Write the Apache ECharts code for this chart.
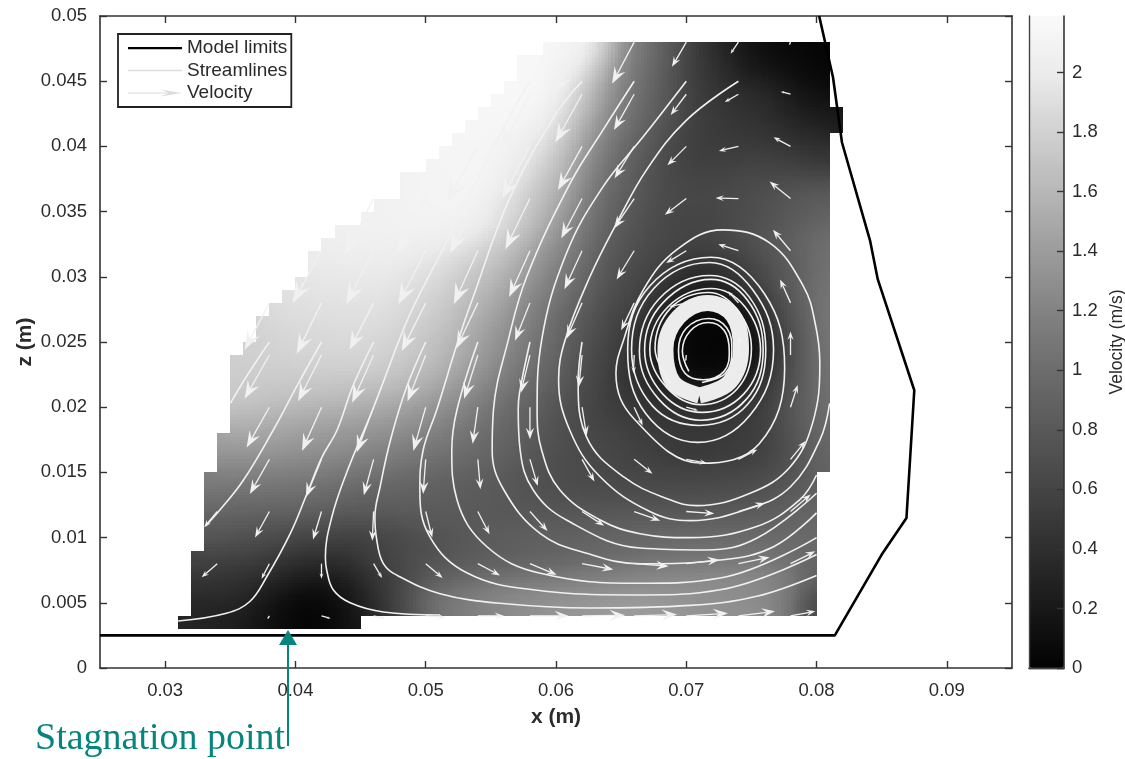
<!DOCTYPE html>
<html><head><meta charset="utf-8">
<style>html,body{margin:0;padding:0;background:#fff}#c{width:1125px;height:759px}</style>
<script src="https://cdn.jsdelivr.net/npm/echarts@6/dist/echarts.min.js"></script>
</head><body><div id="c"></div>
<script>
// axis tick labels
const xTicks=[0.03,0.04,0.05,0.06,0.07,0.08,0.09];
const zTicks=[0,0.005,0.01,0.015,0.02,0.025,0.03,0.035,0.04,0.045,0.05];
const barTicks=[0,0.2,0.4,0.6,0.8,1,1.2,1.4,1.6,1.8,2];
// grey levels of the colour bar, evenly spaced from 0 to 2.19 m/s
const barGreys=['#020202','#181818','#2e2e2e','#444444','#585858','#6c6c6c','#828282','#9b9b9b','#b6b6b6','#d0d0d0','#ebebeb','#fafafa'];
// velocity field read by eye, cm/s, rows from z = 47 mm down to z = 3 mm, cell 1 mm
const rowZ=[47,46,45,44,43,42,41,40,39,38,37,36,35,34,33,32,31,30,29,28,27,26,25,24,23,22,21,20,19,18,17,16,15,14,13,12,11,10,9,8,7,6,5,4,3];
const rowStartX=[59,57,57,56,55,54,53,52,51,50,48,48,46,45,43,42,41,41,40,39,38,37,37,36,35,35,35,35,35,35,34,34,34,33,33,33,33,33,33,32,32,32,32,32,31];
const velocityRows=[
[212, 208,205,195,172,140, 110,96,83,70,57, 45,36,28,21,15, 10,7,5,4,3, 2],
[214,213,211, 205,198,182,155,128, 105,93,81,69,56, 45,38,30,24,18, 14,11,8,6,4, 3],
[214,212,208, 200,190,170,145,122, 102,90,79,67,56, 45,39,33,27,22, 17,14,11,8,6, 4],
[215,214,212,207, 195,178,155,133,115, 98,87,76,66,55, 45,40,35,31,29, 27,23,18,13,10, 7],
[213,213,212,209,202, 188,170,150,128,112, 96,86,75,65,55, 46,42,38,35,32, 31,27,22,18,14, 12],
[212, 212,212,210,205,196, 180,160,140,122,105, 92,82,73,63,54, 46,43,40,37,35, 34,30,26,22,19, 17,15],
[212,212, 211,210,206,199,188, 172,152,133,115,100, 88,79,70,60,52, 46,43,41,39,37, 36,33,30,27,25, 24,20],
[210,210,210, 208,205,198,190,178, 162,143,125,108,94, 82,74,66,57,50, 45,43,42,41,40, 40,38,36,33,31, 30],
[210,210,210,210, 206,202,194,183,170, 155,136,118,102,89, 79,71,63,55,49, 46,44,44,44,44, 44,43,41,39,37, 35],
[208,209,210,210,209, 204,198,188,175,162, 148,130,112,97,85, 76,68,61,54,50, 47,46,46,47,48, 49,48,47,46,44, 42],
[205,207, 208,209,210,209,207, 201,193,182,168,155, 141,124,107,93,82, 74,66,59,54,51, 49,49,49,50,52, 53,53,54,54,55, 55],
[205,207, 208,208,208,206,203, 192,185,172,160,148, 135,118,102,89,79, 72,65,59,55,53, 52,52,53,54,55, 57,59,62,64,66, 67],
[203,204,205,206, 207,207,206,204,200, 188,180,168,155,142, 129,113,98,86,76, 69,63,58,54,52, 51,51,52,54,56, 58,61,64,67,69, 72],
[203,203,204,205,205, 205,204,203,199,195, 183,175,163,149,136, 123,108,94,83,73, 67,61,56,53,51, 50,50,51,54,56, 59,62,66,70,73, 77],
[200,201, 202,202,203,203,203, 202,201,199,195,190, 177,168,156,142,129, 116,103,90,79,70, 64,59,55,52,50, 49,49,51,54,57, 60,64,68,73,77, 82],
[198,199,199, 200,200,200,199,198, 195,193,189,183,175, 165,156,144,132,120, 110,98,86,76,68, 62,57,54,51,49, 48,48,50,53,57, 62,66,71,76,82, 87],
[194,195,195,196, 196,196,195,194,191, 188,184,178,171,164, 157,148,136,124,113, 104,93,82,72,65, 59,55,51,48,44, 41,40,42,46,50, 56,62,68,74,80, 88],
[190,190,191,191, 192,192,190,188,185, 182,176,169,163,157, 150,140,129,118,107, 98,88,78,69,62, 56,52,48,42,36, 33,32,34,39,45, 52,60,67,74,81, 89],
[187,188,188,189,189, 189,189,187,184,180, 176,170,163,156,150, 142,133,122,112,102, 94,84,75,66,59, 54,49,44,37,30, 26,24,26,31,39, 48,57,66,74,82, 90],
[183, 184,185,185,186,186, 186,185,183,179,175, 171,165,158,151,144, 136,127,116,106,97, 90,80,71,62,55, 51,46,39,30,21, 15,12,14,20,30, 38,50,62,72,82, 92],
[178,180, 181,182,182,183,183, 183,182,179,175,171, 167,160,153,146,138, 130,121,110,100,91, 84,75,67,59,52, 48,41,33,23,13, 8,6,7,11,19, 30,44,58,70,81, 92],
[173,176,178, 178,179,180,180,180, 180,178,175,171,167, 163,156,149,141,133, 125,116,106,97,88, 80,71,63,55,49, 44,37,27,15,7, 4,3,3,4,8, 22,38,54,68,80, 92],
[170,172,174, 175,176,176,177,177, 177,175,172,168,163, 158,151,144,136,128, 120,111,102,93,85, 78,69,61,54,47, 40,32,22,11,5, 3,2,2,3,6, 18,34,50,65,79, 92],
[168,170,171,172, 173,173,174,174,174, 173,171,168,164,159, 154,147,140,132,124, 116,107,98,90,82, 75,66,58,51,45, 38,30,20,10,5, 3,2,2,3,5, 15,31,47,63,78, 91],
[167,167,168,168,169, 170,170,170,170,170, 169,167,164,160,155, 150,143,136,128,120, 112,103,95,87,79, 72,63,56,49,43, 37,30,21,12,6, 4,3,3,4,8, 20,34,49,64,78, 90],
[165,165,165,165,165, 165,165,165,164,164, 163,161,158,154,149, 143,137,130,122,114, 106,98,90,83,76, 69,61,54,48,42, 37,31,25,17,11, 8,7,8,12,18, 28,39,52,65,78, 89],
[163,162,161,160,160, 158,158,157,156,155, 153,151,148,144,140, 135,128,122,115,107, 99,92,85,78,72, 66,59,53,47,42, 38,33,28,23,19, 17,17,18,22,27, 34,44,55,66,77, 88],
[160,158,156,155,153, 150,149,148,147,145, 143,141,138,134,130, 125,118,112,106,99, 92,86,80,74,68, 62,57,51,47,43, 40,37,34,32,31, 30,30,31,33,36, 40,48,58,68,78, 87],
[150,149,147,145,143, 141,140,138,137,135, 133,131,128,124,120, 116,110,105,99,93, 87,81,76,71,65, 60,55,51,47,44, 42,39,37,36,35, 34,35,36,38,40, 43,50,59,68,77, 85],
[140,139,137,135,133, 131,130,128,127,125, 123,121,118,115,111, 107,102,97,92,88, 83,78,73,68,63, 59,55,52,49,47, 45,43,41,40,39, 38,38,39,41,42, 44,50,58,67,75, 83],
[130, 130,129,128,127,125, 123,122,120,118,116, 114,112,109,106,102, 99,95,91,87,83, 79,75,71,66,62, 58,55,53,51,49, 47,45,44,42,41, 40,41,41,42,43, 45,50,57,65,73, 80],
[120, 120,120,119,118,117, 115,114,113,111,109, 105,104,101,98,95, 92,89,86,83,80, 78,73,69,64,60, 57,55,53,52,50, 48,46,45,43,41, 40,41,42,43,44, 45,50,56,63,71, 78],
[110, 110,109,109,108,107, 106,105,103,101,99, 97,95,93,90,88, 85,83,80,78,75, 73,69,66,62,59, 56,55,53,52,51, 50,49,48,47,46, 45,46,46,47,48, 50,54,59,65,71, 77],
[101,100, 100,99,99,98,97, 96,95,93,91,89, 87,85,83,81,79, 77,76,74,72,70, 69,66,63,60,58, 56,55,54,54,53, 53,52,52,51,51, 51,51,52,52,53, 55,58,62,66,71],
[92,91, 90,90,89,89,88, 87,86,84,82,80, 78,77,76,75,74, 73,72,71,70,69, 68,65,63,61,59, 58,57,57,56,56, 56,56,56,56,56, 56,57,57,58,59, 60,63,66,70,74],
[83,83, 82,82,82,81,81, 80,79,77,75,73, 72,72,72,72,72, 72,71,70,69,68, 67,66,65,64,63, 62,62,62,62,62, 62,62,62,62,62, 62,63,64,64,65, 67,69,72,75,78],
[75,74, 73,72,71,70,69, 68,67,65,63,62, 62,63,64,65,66, 67,67,67,67,67, 67,67,67,67,67, 67,67,68,68,69, 69,69,70,70,70, 71,71,71,72,72, 73,74,75,77,79],
[67,66, 65,63,61,59,57, 55,54,53,52,52, 53,55,57,59,61, 63,65,66,68,69, 70,71,71,72,72, 73,73,74,75,76, 76,77,78,78,79, 79,80,80,80,80, 80,80,80,81,81],
[60,58, 56,54,52,50,47, 45,44,43,42,42, 44,47,50,53,56, 59,62,65,67,69, 71,72,73,74,75, 76,77,78,79,80, 81,82,83,84,85, 86,86,86,87,87, 87,86,85,84,83],
[50,49,48, 48,46,44,41,38, 35,34,34,35,38, 45,48,52,56,59, 62,65,68,70,71, 72,73,75,76,77, 78,80,82,84,85, 87,88,90,91,92, 92,93,93,93,93, 92,91,88,84,78],
[42,41,40, 39,37,35,32,28, 25,24,24,26,30, 37,42,47,53,59, 65,69,72,75,78, 80,82,84,86,87, 88,90,92,94,96, 98,100,101,102,103, 103,104,104,104,103, 102,100,95,88,78],
[36,35,34, 33,30,27,23,19, 15,14,15,18,23, 31,38,46,55,64, 73,79,84,88,92, 95,97,99,101,103, 104,106,107,109,110, 111,112,113,113,113, 113,113,113,112,112, 111,108,102,92,72],
[30,29,29, 28,24,19,14,10, 7,6,8,12,18, 27,36,47,59,72, 87,92,96,100,104, 107,109,111,112,114, 115,116,117,118,119, 120,120,119,118,117, 115,114,113,112,111, 110,106,98,84,58],
[25,24,23, 22,18,14,10,6, 3,3,5,9,15, 24,33,44,56,70, 85,93,98,102,106, 109,112,114,116,118, 120,121,122,123,124, 125,125,124,123,121, 119,118,117,116,115, 113,108,98,82,55],
[25,24,23,22, 20,16,12,8,5, 3,3,5,9,14]
];
// correction for the by-eye reading, which came out too dark in the middle greys
const eyeReadingLift=0.28;
// boundary of the model, mm
const modelLimits=[[80.2,50],[81.26,45.3],[81.95,40.3],[84.1,32.8],[84.7,29.8],[87.5,21.3],[86.9,11.5],[85,8.7],[81.4,2.5],[25,2.5]];
// streamlines, mm
const streamlines=[
[[38,25],[36.4,22.6],[35,20.3]],
[[42,25],[40.1,21.6],[38.3,18.25],[36,14.4],[34.1,12],[33.1,10.9]],
[[46,25],[44.4,21.6],[43.2,18.25],[42,16.1],[40.9,13.4],[39.6,10.3],[37.8,7],[36.5,5.1],[34.7,4.2],[31,3.6]],
[[58,45],[56,41.5],[53.5,36.5],[51,31.5],[49.3,28.2],[48.26,25.9],[46,20],[43.9,14.9],[42.8,11.6],[42.3,8.5],[42.4,7.5],[42.9,6],[44.2,5],[46.75,4.3],[51.1,4.07]],
[[50,25],[48.5,21.45],[47.3,17.5],[46.5,13.9],[46.1,11.6],[46.2,10.1],[46.75,8],[48,7],[51.1,5.7],[55.7,4.96],[62.6,4.6],[70.3,4.8],[75.4,5.5],[80,7.1]],
[[62,45],[60,42.5],[56.5,36.15],[53.55,28.2],[52.5,25.15],[50.85,19.8],[49.8,16.7],[49.55,13.65],[50.3,10.1],[53.15,7.3],[58.25,6],[66.45,5.6],[72.6,6],[80,8.7]],
[[54,25],[52.4,19.8],[52,16.7],[52.4,12.9],[54.7,9.3],[58.8,7.26],[66.45,6.5],[72.6,6.9],[80,10]],
[[66,45],[63.6,41.25],[61.1,37.2],[57.75,30],[56.35,25.2],[55.2,19.8],[55.1,16.7],[56,13.65],[58.8,10.3],[62.35,8.8],[66.45,8],[72.8,8.3],[76.7,9.3],[80,11.9]],
[[58,25],[57.2,21.1],[57.1,19.8],[57.25,16.7],[58.25,13.65],[60.8,11.35],[66.45,9.2],[71.55,9.05],[75.4,9.95],[80,13.4]],
[[70,45],[66.7,40.75],[63.6,36.9],[60.8,31.8],[58.9,25.15],[58.55,19.8],[58.9,16.7],[60.3,13.65],[63.4,11.35],[66.45,10.3],[70.3,10],[75.4,10.85],[78.7,12.9],[80,14.8]],
[[74,45],[70,42],[66.95,38.2],[64.65,34.1],[62.6,30],[60.7,25.15],[60.2,22.1],[61.05,18.25],[63.35,14.7],[67.2,12],[70.3,11.3],[74.9,12.25],[78,13.9],[80.26,17.5],[81,20.3]],
[[62,25],[61.7,21.9],[62.35,17.7],[65.2,14.65],[68.75,12.9],[70.8,12.45],[74.9,13.4],[77.95,15.4],[79.7,18.8],[80.25,23.4],[79.9,26.4],[79,29.25],[76.4,32.6],[72.8,33.6],[69.3,32.1],[66.7,29],[65.2,25.2],[64.6,22.6],[66,19.1],[71.2,15.7],[75.6,17.2],[77.55,23],[76,28.7],[71.9,31.5],[67.2,29.3],[65.5,24.4],[66.9,19.5],[70.9,17.3],[74.9,19.4],[76.7,24.4],[75.1,29],[71.8,31.1],[67.5,29.1],[65.8,24.4],[67.4,20.1],[71,18.6],[74.7,20.2],[76.1,24.4],[74.8,28.5],[71.8,30.1],[67.9,28.3],[66.4,24.3],[67.9,20.6],[71.1,19],[74.6,20.6],[75.9,24.4],[74.7,28.2],[71.9,29.8],[68.2,28],[66.8,24.4],[68.2,21],[71.2,19.6],[74.4,21],[75.7,24.4],[74.5,27.7],[71.9,29.1],[68.6,27.7],[67.2,24.4],[68.5,21.5],[71.1,20.2],[73.9,21.4],[75,24.5],[73.9,27.5],[71.7,28.8],[68.8,27.6],[67.6,24.5],[68.8,21.8]],
[[71.2,21.9],[73,22.6],[73.5,24.35],[73.1,26.1],[71.7,26.8],[70,26.05],[69.4,24.35],[69.9,22.6],[71.3,22.1],[72.9,22.75],[73.3,24.3],[72.9,25.9],[71.7,26.5],[70.3,25.85],[69.7,24.3],[70.2,22.75]]
];
// the tight, nearly solid turns of the spiral
const denseRing=[[71,20.9],[73.3,21.9],[74.2,24.45],[73.6,27],[71.65,28],[69.4,26.9],[68.4,24.45],[69,21.9],[71,20.9]];
// velocity arrows: tail x, tail z, dx, dz (mm)
const arrows=[
[78,48,-.1,-.25],[74,48,-.6,-.9],[70,48,-1.1,-1.9],[66,48,-1.7,-3.2],[62,48,-2.15,-4],
[78,44,-.75,.2],[74,44,-1.05,-.6],[70,44,-1.2,-1.6],[66,44,-1.55,-2.75],[62,44,-2.05,-3.7],[58,44,-2.2,-4.2],
[78,40,-1.3,.7],[74,40,-1.5,-.35],[70,40,-1.45,-1.45],[66,40,-1.5,-2.45],[62,40,-1.85,-3.35],[58,40,-2.15,-4],[54,40,-2.4,-4.3],
[78,36,-1.6,1.3],[74,36,-1.75,.05],[70,36,-1.65,-1.25],[66,36,-1.55,-2.3],[62,36,-1.6,-3.05],[58,36,-1.9,-3.9],[54,36,-2.15,-4.2],[50,36,-2.25,-4.3],[46,36,-2.2,-4.3],
[78,32,-1.35,1.6],[74,32,-1.55,.5],[70,32,-1.55,-.95],[66,32,-1.35,-2.2],[62,32,-1.35,-2.95],[58,32,-1.6,-3.55],[54,32,-1.85,-4.1],[50,32,-2.1,-4.1],[46,32,-2.1,-4.1],[42,32,-2.2,-4],
[78,28,-.8,1.8],[74,28,-.8,.9],[70,28,-1.3,-.3],[66,28,-1,-2.1],[62,28,-1.2,-2.75],[58,28,-1.15,-2.9],[54,28,-1.65,-3.5],[50,28,-1.85,-3.7],[46,28,-1.85,-3.6],[42,28,-1.9,-3.9],[38,28,-1.9,-3.6],
[78,24,0,1.8],[74,24,.1,1.4],[70,24,-.05,-.5],[66,24,-.05,-1.4],[62,24,-.25,-2.45],[58,24,-.7,-2.9],[54,24,-1.05,-3.35],[50,24,-1.4,-3.55],[46,24,-1.65,-3.65],[42,24,-1.8,-3.55],[38,24,-1.9,-3.35],
[78,20,.55,1.7],[74,20,.5,.5],[70,20,.9,-.25],[66,20,.65,-1.4],[62,20,.35,-2.2],[58,20,0,-2.45],[54,20,-.4,-2.8],[50,20,-.95,-3.35],[46,20,-1.3,-3.45],[42,20,-1.5,-3.35],[38,20,-1.75,-3.1],
[78,16,1.15,1.4],[74,16,1.45,.75],[70,16,1.6,-.3],[66,16,1.4,-1.1],[62,16,.95,-1.7],[58,16,.6,-2.05],[54,16,.2,-2.3],[50,16,-.2,-2.65],[46,16,-.75,-2.75],[42,16,-1.2,-2.9],[38,16,-1.5,-2.65],
[78,12,1.55,1.3],[74,12,2.05,.65],[70,12,2.15,-.15],[66,12,2,-.7],[62,12,1.7,-1.1],[58,12,1.35,-1.5],[54,12,.9,-1.75],[50,12,.5,-2],[46,12,-.1,-2.25],[42,12,-.65,-2.15],[38,12,-1.1,-2],[34,12,-1,-1.2],
[78,8,1.9,.95],[74,8,2.4,.5],[70,8,2.55,.3],[66,8,2.65,-.2],[62,8,2.4,-.45],[58,8,2.05,-.85],[54,8,1.7,-.9],[50,8,1.3,-1.1],[46,8,.65,-1.1],[42,8,0,-1.15],[38,8,-.6,-1.15],[34,8,-1.2,-1.05],
[78,4,1.9,.35],[74,4,2.8,.35],[70,4,3.2,.2],[66,4,3.3,.1],[62,4,3.3,.05],[58,4,2.95,0],[54,4,2,0],[50,4,1.5,-.1],[46,4,.9,-.2],[42,4,.7,-.2],[38,4,-.15,-.25]
];
const m=v=>v/1000;
const cells=[],cellV=new Map();
velocityRows.forEach((row,r)=>row.forEach((raw,c)=>{const x=rowStartX[r]+c,z=rowZ[r],s=raw/100,v=s*(1+eyeReadingLift*(1-s/2.2));cells.push([m(x),m(z),v,x,z]);cellV.set(x+','+z,v);}));
const toM=l=>l.map(p=>[m(p[0]),m(p[1])]);
const WHITE='#f1f1f1', TXT='#2b2b2b', FONT='"Liberation Sans",Arial,sans-serif', TEAL='#05857e';
const greyNums=barGreys.map(h=>parseInt(h.slice(1,3),16));
function greyOf(v){const t=Math.max(0,Math.min(1,v/2.19))*(greyNums.length-1),i=Math.min(greyNums.length-2,Math.floor(t)),g=Math.round(greyNums[i]+(greyNums[i+1]-greyNums[i])*(t-i));return 'rgb('+g+','+g+','+g+')';}
// shared corner of up to four cells, so the field is shaded across each cell as in the picture
function corner(x,z){let s=0,n=0;[[x-1,z-1],[x,z-1],[x-1,z],[x,z]].forEach(k=>{const v=cellV.get(k[0]+','+k[1]);if(v!==undefined){s+=v;n++;}});return s/n;}
const SUB=4;
const baseLabel={color:TXT,fontFamily:FONT,fontSize:18.5};
function ax(extra,ticks,showLabel,margin){return Object.assign({type:'value',scale:false,splitLine:{show:false},nameMoveOverlap:false,
  axisLine:{show:true,onZero:false,lineStyle:{color:'#333',width:1.6}},
  axisTick:{show:true,inside:true,length:7,customValues:ticks,lineStyle:{color:'#333',width:1.4}},
  axisLabel:{show:showLabel,customValues:ticks,margin:margin||13,hideOverlap:false,showMinLabel:true,showMaxLabel:true,formatter:v=>String(v),...baseLabel}},extra);}
const series=[
 {type:'custom',name:'field',silent:true,clip:true,z:1,progressive:0,xAxisIndex:0,yAxisIndex:0,data:cells,dimensions:['x','z','v','xi','zi'],encode:{x:0,y:1},
  renderItem(p,api){
   const a=api.coord([api.value(0),api.value(1)+m(1)]),s=api.size([m(1),m(1)]),xi=api.value(3),zi=api.value(4);
   const bl=corner(xi,zi),br=corner(xi+1,zi),tl=corner(xi,zi+1),tr=corner(xi+1,zi+1);
   const children=[];
   for(let i=0;i<SUB;i++)for(let j=0;j<SUB;j++){const u=(i+.5)/SUB,t=(j+.5)/SUB;
     const v=(tl*(1-u)+tr*u)*(1-t)+(bl*(1-u)+br*u)*t;
     const x0=Math.round(a[0]+i*s[0]/SUB),x1=Math.round(a[0]+(i+1)*s[0]/SUB),y0=Math.round(a[1]+j*s[1]/SUB),y1=Math.round(a[1]+(j+1)*s[1]/SUB);
     children.push({type:'rect',shape:{x:x0,y:y0,width:x1-x0,height:y1-y0},style:{fill:greyOf(v)}});}
   return {type:'group',children};}},
 {type:'line',name:'Model limits',data:toM(modelLimits),symbol:'none',showSymbol:false,z:6,clip:true,lineStyle:{color:'#000',width:2.6},itemStyle:{color:'#000'},silent:true,animation:false}
];
streamlines.forEach(l=>series.push({type:'line',name:'Streamlines',data:toM(l),smooth:.4,symbol:'none',showSymbol:false,z:3,silent:true,animation:false,
  lineStyle:{color:WHITE,width:1.6},itemStyle:{color:'#dcdcdc'}}));
series.push({type:'line',name:'ring',data:toM(denseRing),smooth:.38,symbol:'none',showSymbol:false,z:2,silent:true,animation:false,lineStyle:{color:'#ececec',width:16}});
series.push({type:'custom',name:'Velocity',silent:true,z:4,clip:true,itemStyle:{color:'#dcdcdc'},
  data:arrows.map(a=>[m(a[0]),m(a[1]),m(a[2]),m(a[3])]),encode:{x:0,y:1},
  renderItem(p,api){
    const t=api.coord([api.value(0),api.value(1)]),h=api.coord([api.value(0)+api.value(2),api.value(1)+api.value(3)]);
    const dx=h[0]-t[0],dy=h[1]-t[1],L=Math.hypot(dx,dy)||1,ux=dx/L,uy=dy/L,hl=L*.36,hw=L*.13,nl=hl*.62;
    const b=[h[0]-ux*hl,h[1]-uy*hl];
    return {type:'group',children:[
      {type:'line',shape:{x1:t[0],y1:t[1],x2:h[0]-ux*nl,y2:h[1]-uy*nl},style:{stroke:WHITE,lineWidth:1.3}},
      {type:'polygon',shape:{points:[h,[b[0]-uy*hw,b[1]+ux*hw],[h[0]-ux*nl,h[1]-uy*nl],[b[0]+uy*hw,b[1]-ux*hw]]},style:{fill:WHITE}}
    ]};
  }});
const frame=(i,pos)=>({gridIndex:i,type:'value',min:0,max:1,position:pos,axisTick:{show:false},axisLabel:{show:false},splitLine:{show:false},axisLine:{show:true,lineStyle:{color:'#444',width:1.4}}});
const option={animation:false,backgroundColor:'#fff',
 grid:[{left:100,top:16,width:912,height:652,show:false,outerBoundsMode:'none'},{left:1029,top:16,width:35,height:652,show:false,outerBoundsMode:'none'}],
 xAxis:[
  ax({gridIndex:0,min:0.025,max:0.095,position:'bottom',name:'x (m)',nameLocation:'middle',nameGap:39,nameTextStyle:{color:TXT,fontFamily:FONT,fontSize:21,fontWeight:'bold'}},xTicks,true),
  ax({gridIndex:0,min:0.025,max:0.095,position:'top'},xTicks,false),
  frame(1,'bottom'),frame(1,'top')
 ],
 yAxis:[
  ax({gridIndex:0,min:0,max:0.05,position:'left',name:'z (m)',nameLocation:'middle',nameGap:64,nameTextStyle:{color:TXT,fontFamily:FONT,fontSize:21,fontWeight:'bold'}},zTicks,true),
  ax({gridIndex:0,min:0,max:0.05,position:'right'},zTicks,false),
  frame(1,'left'),
  ax({gridIndex:1,min:0,max:2.19,position:'right',name:'Velocity (m/s)',nameLocation:'middle',nameRotate:90,nameGap:44,nameTextStyle:{color:TXT,fontFamily:FONT,fontSize:17.5}},barTicks,true,8)
 ],
 visualMap:{type:'continuous',min:0,max:2.19,seriesIndex:0,dimension:2,calculable:false,hoverLink:false,realtime:false,
   left:1029,top:16,itemWidth:35,itemHeight:652,padding:0,text:null,showLabel:false,textStyle:{fontSize:0},inRange:{color:barGreys},z:0},
 legend:{show:true,orient:'vertical',left:118,top:34,padding:[4.5,4,4.5,10],itemGap:3.5,itemWidth:54,itemHeight:14,selectedMode:false,
   backgroundColor:'#fff',borderColor:'#222',borderWidth:1.8,z:10,textStyle:{color:TXT,fontFamily:FONT,fontSize:19},
   data:[{name:'Model limits',icon:'path://M0,0h.01v.01h-.01zM0,6H54V8.2H0zM54,14h.01v.01h-.01z'},
         {name:'Streamlines',icon:'path://M0,0h.01v.01h-.01zM0,6.3H54V7.7H0zM54,14h.01v.01h-.01z'},
         {name:'Velocity',icon:'path://M0,0h.01v.01h-.01zM0,6.5H40L32,3.5L54,7L32,10.5L40,7.5H0zM54,14h.01v.01h-.01z'}]},
 graphic:[
  {type:'text',left:35,top:720,style:{text:'Stagnation point',fill:TEAL,font:'38px "Liberation Serif","DejaVu Serif",serif'},z:20},
  {type:'line',shape:{x1:288,y1:746,x2:288,y2:640},style:{stroke:TEAL,lineWidth:2},z:20},
  {type:'polygon',shape:{points:[[288,630],[279,645],[297,645]]},style:{fill:TEAL},z:20}
 ],
 series
};
const chart=echarts.init(document.getElementById('c'),null,{renderer:'canvas',width:1125,height:759});
chart.setOption(option);
</script></body></html>
